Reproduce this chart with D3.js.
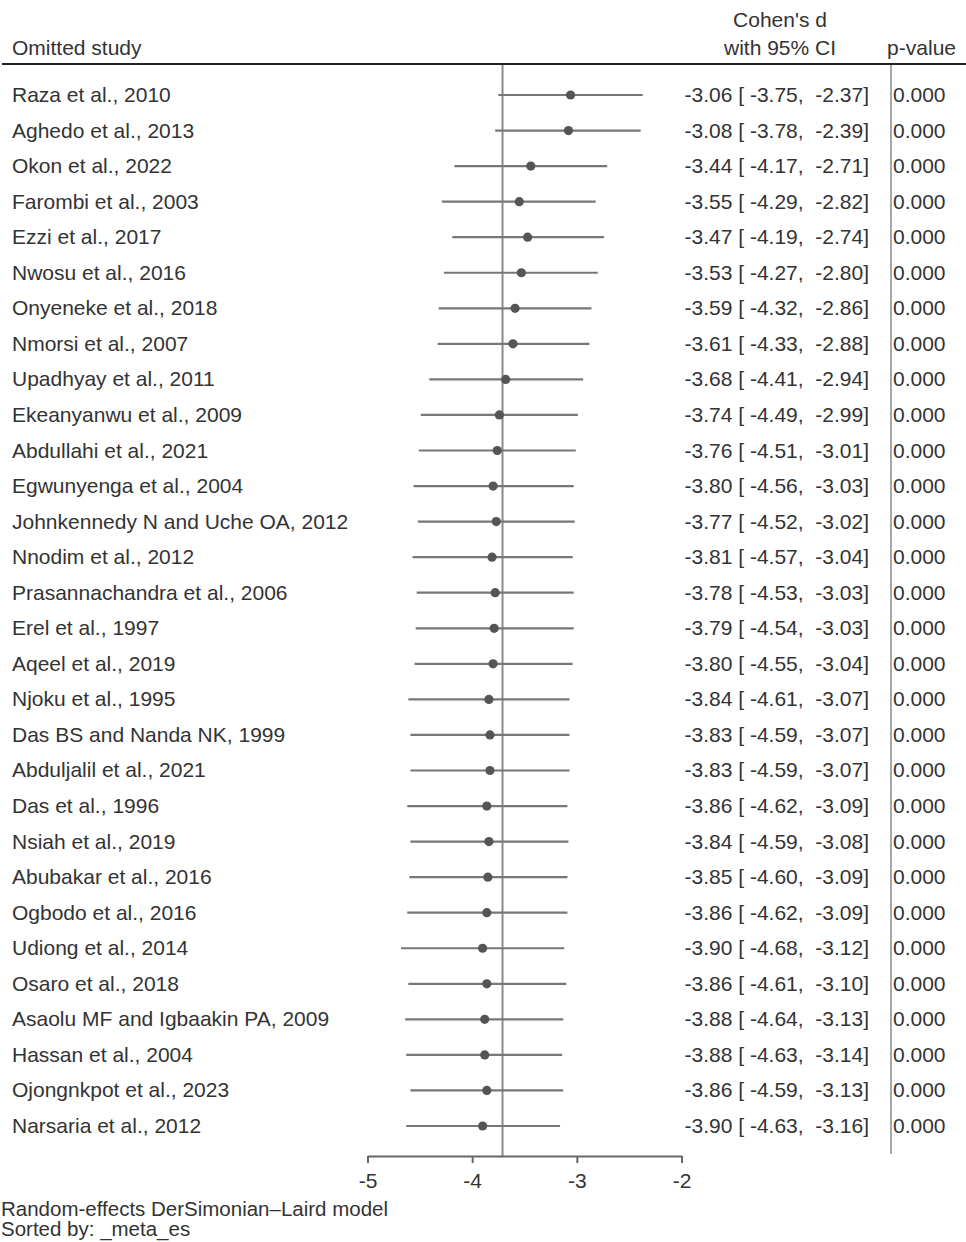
<!DOCTYPE html>
<html>
<head>
<meta charset="utf-8">
<script src="https://cdn.jsdelivr.net/npm/d3@7"></script>
<style>
  html, body { margin: 0; padding: 0; background: #fff; }
  svg text { font-family: "Liberation Sans", Arial, sans-serif; fill: #333; white-space: pre; }
</style>
</head>
<body>
<svg id="chart" width="966" height="1242"></svg>
<script>
// Leave-one-out sensitivity analysis: each row omits one study
const studies = [
  "Raza et al., 2010", "Aghedo et al., 2013", "Okon et al., 2022", "Farombi et al., 2003",
  "Ezzi et al., 2017", "Nwosu et al., 2016", "Onyeneke et al., 2018", "Nmorsi et al., 2007",
  "Upadhyay et al., 2011", "Ekeanyanwu et al., 2009", "Abdullahi et al., 2021", "Egwunyenga et al., 2004",
  "Johnkennedy N and Uche OA, 2012", "Nnodim et al., 2012", "Prasannachandra et al., 2006", "Erel et al., 1997",
  "Aqeel et al., 2019", "Njoku et al., 1995", "Das BS and Nanda NK, 1999", "Abduljalil et al., 2021",
  "Das et al., 1996", "Nsiah et al., 2019", "Abubakar et al., 2016", "Ogbodo et al., 2016",
  "Udiong et al., 2014", "Osaro et al., 2018", "Asaolu MF and Igbaakin PA, 2009", "Hassan et al., 2004",
  "Ojongnkpot et al., 2023", "Narsaria et al., 2012"
];
const effect = [
  -3.06, -3.08, -3.44, -3.55, -3.47, -3.53, -3.59, -3.61, -3.68, -3.74,
  -3.76, -3.80, -3.77, -3.81, -3.78, -3.79, -3.80, -3.84, -3.83, -3.83,
  -3.86, -3.84, -3.85, -3.86, -3.90, -3.86, -3.88, -3.88, -3.86, -3.90
];
const ciLow = [
  -3.75, -3.78, -4.17, -4.29, -4.19, -4.27, -4.32, -4.33, -4.41, -4.49,
  -4.51, -4.56, -4.52, -4.57, -4.53, -4.54, -4.55, -4.61, -4.59, -4.59,
  -4.62, -4.59, -4.60, -4.62, -4.68, -4.61, -4.64, -4.63, -4.59, -4.63
];
const ciHigh = [
  -2.37, -2.39, -2.71, -2.82, -2.74, -2.80, -2.86, -2.88, -2.94, -2.99,
  -3.01, -3.03, -3.02, -3.04, -3.03, -3.03, -3.04, -3.07, -3.07, -3.07,
  -3.09, -3.08, -3.09, -3.09, -3.12, -3.10, -3.13, -3.14, -3.13, -3.16
];
const pValues = Array(studies.length).fill("0.000");
const overallEffect = -3.71;
const axisTicks = [-5, -4, -3, -2];

const rows = studies.map((name, i) => ({
  name, es: effect[i], lo: ciLow[i], hi: ciHigh[i], p: pValues[i]
}));

const svg = d3.select("#chart");
const fontSize = 21;
// plain hyphen-minus, as in the statistical output
const fmt = v => d3.format(".2f")(v).replace("\u2212", "-");

const x = d3.scaleLinear().domain([-5, -2]).range([367.5, 681.5]);
const y = d3.scaleBand().domain(d3.range(rows.length)).range([77.2, 1143.8]);
const cy = i => y(i) + y.bandwidth() / 2;

const axisY = 1156;
const topY = 65;

// header
const head = svg.append("g").attr("font-size", fontSize);
head.append("text").attr("x", 12).attr("y", 55).text("Omitted study");
head.append("text").attr("x", 780).attr("y", 27).attr("text-anchor", "middle").text("Cohen's d");
head.append("text").attr("x", 780).attr("y", 55).attr("text-anchor", "middle").text("with 95% CI");
head.append("text").attr("x", 956).attr("y", 55).attr("text-anchor", "end").text("p-value");
svg.append("line").attr("x1", 2).attr("x2", 966).attr("y1", 64).attr("y2", 64)
  .attr("stroke", "#222").attr("stroke-width", 2);

// reference line at the overall estimate
svg.append("line")
  .attr("x1", x(overallEffect)).attr("x2", x(overallEffect))
  .attr("y1", topY).attr("y2", axisY)
  .attr("stroke", "#8a8a8a").attr("stroke-width", 2);

// separator before the p-value column
svg.append("line").attr("x1", 891).attr("x2", 891).attr("y1", topY).attr("y2", 1154)
  .attr("stroke", "#8a8a8a").attr("stroke-width", 1.5);

// confidence intervals and point estimates
const rowG = svg.append("g").selectAll("g").data(rows).join("g");
rowG.append("line")
  .attr("x1", d => x(d.lo)).attr("x2", d => x(d.hi))
  .attr("y1", (d, i) => cy(i)).attr("y2", (d, i) => cy(i))
  .attr("stroke", "#777").attr("stroke-width", 2.2);
rowG.append("circle")
  .attr("cx", d => x(d.es)).attr("cy", (d, i) => cy(i)).attr("r", 4.6)
  .attr("fill", "#555");

// text columns
rowG.append("text").attr("font-size", fontSize)
  .attr("x", 12).attr("y", (d, i) => cy(i) + 7).text(d => d.name);
rowG.append("text").attr("font-size", fontSize).attr("text-anchor", "end")
  .attr("x", 869).attr("y", (d, i) => cy(i) + 7)
  .text(d => `${fmt(d.es)} [ ${fmt(d.lo)},  ${fmt(d.hi)}]`);
rowG.append("text").attr("font-size", fontSize)
  .attr("x", 893).attr("y", (d, i) => cy(i) + 7).text(d => d.p);

// x axis
const axis = svg.append("g").attr("transform", `translate(0,${axisY})`)
  .call(d3.axisBottom(x).tickValues(axisTicks).tickSize(7).tickSizeOuter(0));
axis.select(".domain").attr("stroke", "#666").attr("stroke-width", 2);
axis.selectAll(".tick line").attr("stroke", "#666").attr("stroke-width", 2);
axis.selectAll(".tick text").attr("font-size", fontSize).attr("fill", "#333")
  .attr("font-family", "Liberation Sans, Arial, sans-serif").attr("dy", "1.05em")
  .text(d => String(d));

// notes
const notes = svg.append("g").attr("font-size", 20.5);
notes.append("text").attr("x", 1).attr("y", 1216).text("Random-effects DerSimonian\u2013Laird model");
notes.append("text").attr("x", 1).attr("y", 1236).text("Sorted by: _meta_es");
</script>
</body>
</html>
